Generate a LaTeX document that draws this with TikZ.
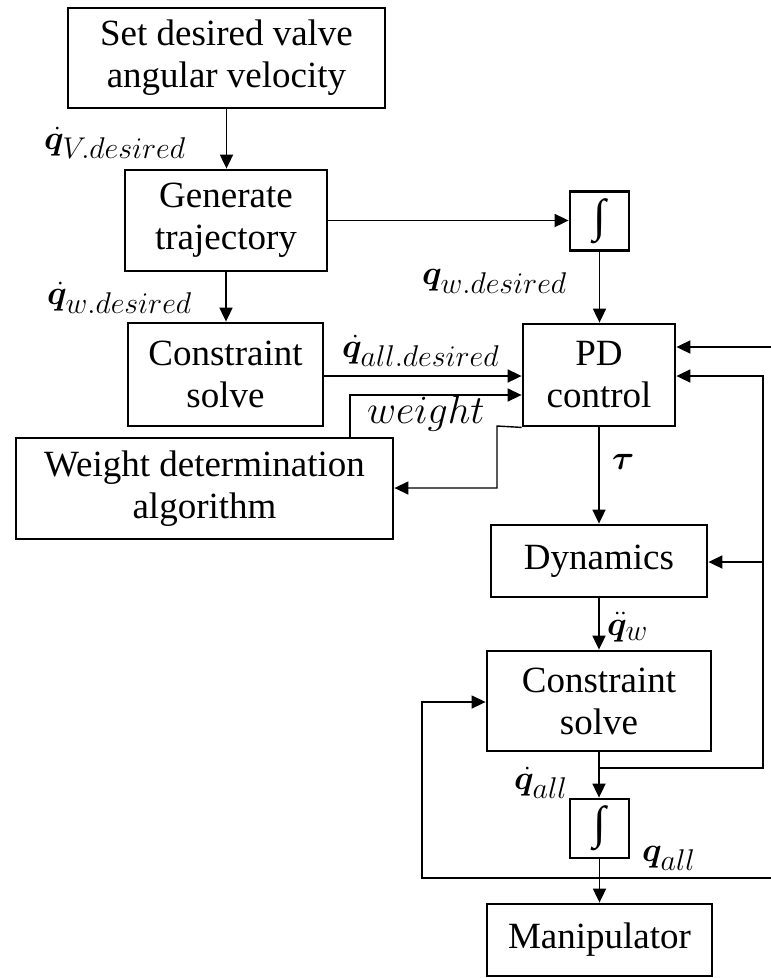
\RequirePackage{fix-cm}
\documentclass[tikz,border=0pt]{standalone}
\usepackage{amsmath,bm}
\usepackage{fontspec}
\setmainfont{Liberation Serif}
\usetikzlibrary{arrows.meta}
\DeclareMathSizes{34}{34}{30}{24}
\DeclareMathSizes{40}{40}{32}{26}
\begin{document}
\begin{tikzpicture}[x=1pt,y=-1pt,
  blk/.style={draw,line width=2.8pt,inner sep=0pt,align=center,font=\fontsize{37}{42}\selectfont},
  intbox/.style={draw,line width=2.8pt,inner sep=0pt,minimum width=59pt,minimum height=59pt,font=\fontsize{46}{48}\selectfont},
  con/.style={line width=1.8pt,-{Triangle[length=14pt,width=13pt]}},
  lab/.style={font=\fontsize{34}{40}\selectfont,inner sep=0pt,anchor=west}]
\useasboundingbox (0,0) rectangle (771,978);
% blocks
\node[blk,minimum width=317pt,minimum height=100pt] (set) at (226.5,58) {Set desired valve\\angular velocity};
\node[blk,minimum width=202pt,minimum height=101pt] (gen) at (226,220.5) {Generate\\trajectory};
\node[blk,minimum width=195pt,minimum height=103pt] (cs1) at (225.5,374.5) {Constraint\\solve};
\node[blk,minimum width=377pt,minimum height=101pt] (wda) at (204.5,488.5) {Weight determination\\algorithm};
\node[intbox] (int1) at (599.5,221) {∫};
\node[blk,minimum width=152pt,minimum height=102pt] (pd) at (599,375) {PD\\control};
\node[blk,minimum width=216pt,minimum height=72pt] (dyn) at (599,561) {Dynamics};
\node[blk,minimum width=224pt,minimum height=100pt] (cs2) at (599,701) {Constraint\\solve};
\node[intbox] (int2) at (599.5,828.5) {∫};
\node[blk,minimum width=225pt,minimum height=72pt] (man) at (599.5,940) {Manipulator};
% coordinates
\coordinate (wup) at (350,395);
\coordinate (pdl) at (497,426);
\coordinate (pdl2) at (497,488);
\coordinate (br1) at (600,768);
\coordinate (rc) at (763,768);
\coordinate (rt) at (763,376);
\coordinate (rd) at (763,562);
\coordinate (edgeTop) at (771,347);
\coordinate (edgeBot) at (771,878);
\coordinate (lb) at (422,878);
\coordinate (lt) at (422,702);
% connectors
\draw[con] (set.south) -- (set.south |- gen.north);
\draw[con] (gen.east) -- (gen.east -| int1.west);
\draw[con] (int1.south) -- (int1.south |- pd.north);
\draw[con] (gen.south) -- (gen.south |- cs1.north);
\draw[con] (cs1.east |- rt) -- (pd.west |- rt);
\draw[con,line width=1.4pt] (wda.north -| wup) -- (wup) -- (pd.west |- wup);
\draw[con,line width=1.4pt] (pd.south west) -- (pdl) -- (pdl2) -- (wda.east |- pdl2);
\draw[con] (pd.south) -- (pd.south |- dyn.north);
\draw[con] (dyn.south) -- (dyn.south |- cs2.north);
\draw[con] (cs2.south) -- (cs2.south |- int2.north);
\draw[con] (int2.south) -- (int2.south |- man.north);
\draw[con] (br1) -- (rc) -- (rt) -- (pd.east |- rt);
\draw[con] (rd) -- (dyn.east |- rd);
\draw[con] (edgeTop) -- (pd.east |- edgeTop);
\draw[con,line width=1.4pt] (edgeBot) -- (lb) -- (lt) -- (cs2.west |- lt);
% labels
\node[lab] (l1) at (44,143) {$\dot{\bm{q}}_{V.desired}$};
\node[lab] (l2) at (47,298) {$\dot{\bm{q}}_{w.desired}$};
\node[lab] (l3) at (422,281) {$\bm{q}_{w.desired}$};
\node[lab] (l4) at (342,351) {$\dot{\bm{q}}_{all.desired}$};
\node[lab,font=\fontsize{40}{44}\selectfont] (l5) at (367,413) {$weight$};
\node[lab] (l6) at (612,462) {$\bm{\tau}$};
\node[lab] (l7) at (607,627) {$\ddot{\bm{q}}_{w}$};
\node[lab] (l8) at (514,783) {$\dot{\bm{q}}_{all}$};
\node[lab] (l9) at (642,858) {$\bm{q}_{all}$};
\end{tikzpicture}
\end{document}
